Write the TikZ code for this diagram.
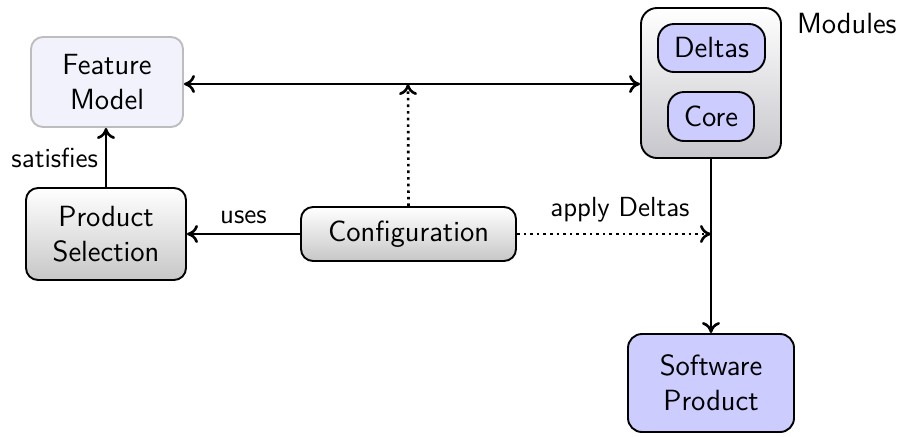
\documentclass[tikz,border=0pt]{standalone}
\usetikzlibrary{arrows.meta,shadings}
\definecolor{fmfill}{HTML}{F2F2FD}
\definecolor{fmdraw}{HTML}{BDBDBD}
\definecolor{lav}{HTML}{CCCCFF}
\definecolor{mdbot}{HTML}{C6C6CC}
\tikzset{
  every node/.style={font=\sffamily\fontsize{14.6}{17.5}\selectfont, align=center},
  gbox/.style={draw=black, line width=0.95pt, rounded corners=6pt, top color=white, bottom color=black!22},
  lbox/.style={draw=black, line width=0.95pt, rounded corners=7pt, fill=lav},
  fbox/.style={draw=fmdraw, line width=0.95pt, rounded corners=6pt, fill=fmfill},
  tip/.style={},
  conn/.style={line width=1.3pt, -{To[length=5.5pt,width=9pt]}},
  dconn/.style={line width=1.3pt, dotted, -{To[length=5.5pt,width=9pt]}},
  lbl/.style={font=\sffamily\fontsize{13.8}{16}\selectfont}
}
\begin{document}
\begin{tikzpicture}[x=0.5pt,y=-0.5pt]
\useasboundingbox (0,0) rectangle (898,436);
\node[fbox, minimum width=76pt, minimum height=45pt] (fm) at (107,82) {Feature\\Model};
\node[gbox, minimum width=80pt, minimum height=46pt] (ps) at (106,234) {Product\\Selection};
\node[gbox, minimum width=107.5pt, minimum height=27pt] (cf) at (408.5,234) {Configuration};
\node[gbox, minimum width=70pt, minimum height=75pt, rounded corners=8pt, bottom color=mdbot] (md) at (711,83) {};
\node[lbox, minimum width=53.5pt, minimum height=24pt, rounded corners=8pt] (dl) at (711.5,48) {Deltas};
\node[lbox, minimum width=43pt, minimum height=24.5pt, rounded corners=8pt] (co) at (711,116.5) {Core};
\node[anchor=west] (ml) at (790,24) {Modules};
\node[lbox, minimum width=83pt, minimum height=49pt] (sp) at (711,383) {Software\\Product};
\coordinate (mid) at (408,84);
\coordinate (ad) at (711,234);
\draw[line width=1.3pt, {To[length=5.5pt,width=9pt]}-{To[length=5.5pt,width=9pt]}] (fm.east |- mid) -- (md.west |- mid);
\draw[dconn] (cf.north) -- (mid);
\draw[conn] (ps.north) -- node[lbl, left, xshift=0pt] (sat) {satisfies} (ps.north |- fm.south);
\draw[conn] (cf.west) -- node[lbl, above, yshift=1pt] (us) {uses} (ps.east |- cf.west);
\draw[conn] (md.south) -- (sp.north);
\draw[dconn] (cf.east) -- node[lbl, above, yshift=2pt, xshift=3pt] (ap) {apply Deltas} (ad);
\end{tikzpicture}
\end{document}
